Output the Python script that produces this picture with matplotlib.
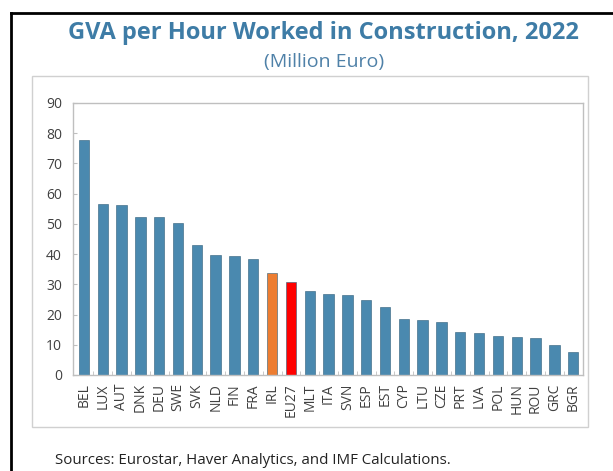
import numpy as np
import matplotlib.pyplot as plt
from matplotlib.patches import Rectangle
from matplotlib.lines import Line2D

# data
countries = ['BEL', 'LUX', 'AUT', 'DNK', 'DEU', 'SWE', 'SVK', 'NLD', 'FIN', 'FRA',
             'IRL', 'EU27', 'MLT', 'ITA', 'SVN', 'ESP', 'EST', 'CYP', 'LTU', 'CZE',
             'PRT', 'LVA', 'POL', 'HUN', 'ROU', 'GRC', 'BGR']
gva = [77.6, 56.7, 56.3, 52.2, 52.2, 50.3, 43.0, 39.8, 39.4, 38.4,
       33.7, 30.7, 27.8, 26.9, 26.6, 24.8, 22.4, 18.4, 18.3, 17.4,
       14.3, 13.9, 13.0, 12.5, 12.2, 9.8, 7.7]
y_ticks = [0, 10, 20, 30, 40, 50, 60, 70, 80, 90]

blue = '#4A89AF'
colors = []
for c in countries:
    if c == 'IRL':
        colors.append('#ED7D31')
    elif c == 'EU27':
        colors.append('#FF0000')
    else:
        colors.append(blue)

plt.rcParams['font.family'] = ['Open Sans', 'DejaVu Sans']

fig = plt.figure(figsize=(6.13, 4.71), dpi=100)

# outer black frame (left and top) and light grey chart box
fig.add_artist(Line2D([11 / 613, 11 / 613], [0, 1 - 13 / 471], color='black', lw=2))
fig.add_artist(Line2D([11 / 613, 1], [1 - 13 / 471, 1 - 13 / 471], color='black', lw=2))
fig.add_artist(Rectangle((32 / 613, 1 - 427 / 471), (588 - 32) / 613, (427 - 76) / 471,
                         fill=False, edgecolor='#D0D0D0', lw=1))

ax = fig.add_axes([73 / 613, 1 - 375 / 471, (583 - 73) / 613, (375 - 103) / 471])
x = np.arange(len(countries))
ax.bar(x, gva, width=0.55, color=colors, edgecolor='#2E5E7A', linewidth=0.4)

ax.set_xlim(-0.58, 26.52)
ax.set_ylim(0, 90)
ax.set_yticks(y_ticks)
ax.set_xticks(x)
ax.set_xticklabels(countries, rotation=90)
ax.set_xticks(x[:-1] + 0.5, minor=True)
ax.tick_params(axis='x', which='major', length=0, pad=6, labelsize=10, labelcolor='#404040')
ax.tick_params(axis='x', which='minor', length=3, direction='in', color='#BFBFBF')
ax.tick_params(axis='y', length=3, direction='in', color='#BFBFBF', pad=8,
               labelsize=10, labelcolor='#404040')
for s in ax.spines.values():
    s.set_color('#BFBFBF')
    s.set_linewidth(1)

fig.text(323 / 613, 1 - 33 / 471, 'GVA per Hour Worked in Construction, 2022',
         ha='center', va='center', fontsize=17, fontweight='bold', color='#3E7CA6')
fig.text(324 / 613, 1 - 62 / 471, '(Million Euro)', ha='center', va='center',
         fontsize=14, color='#4F81A8')
fig.text(55 / 613, 1 - 460 / 471, 'Sources: Eurostar, Haver Analytics, and IMF Calculations.',
         ha='left', va='center', fontsize=10.8, color='#222222')

fig.savefig('out.png', dpi=100)
